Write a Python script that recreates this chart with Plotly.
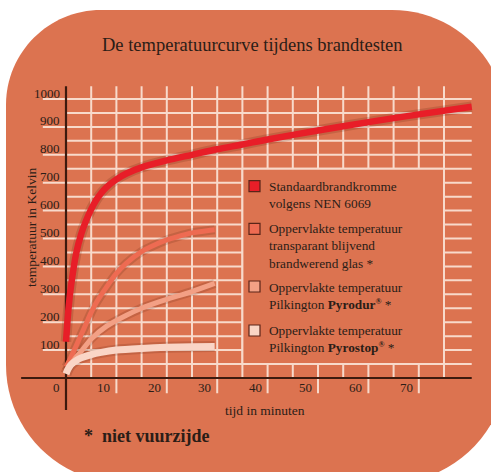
import plotly.graph_objects as go

# ---------------- data ----------------
x_ticks = [0, 10, 20, 30, 40, 50, 60, 70]
y_ticks = [100, 200, 300, 400, 500, 600, 700, 800, 900, 1000]

std_t = [0, 0.5, 1, 2, 3, 4, 5, 6, 7, 8, 10, 12, 15, 20, 25, 30, 35, 40, 50, 60, 70, 80.5]
std_v = [130, 250, 330, 445, 515, 565, 605, 638, 663, 683, 712, 733, 755, 780, 800, 820, 837, 855, 887, 917, 945, 972]

glass_t = [0, 1, 2, 3, 4, 5, 6, 8, 10, 12, 15, 18, 20, 22, 25, 28, 29.5]
glass_v = [40, 75, 115, 155, 195, 235, 270, 325, 375, 412, 453, 480, 495, 506, 520, 528, 531]

pyrodur_t = [0, 1, 2, 3, 5, 8, 12, 15, 18, 20, 25, 29.5]
pyrodur_v = [25, 50, 75, 95, 140, 185, 225, 250, 270, 282, 310, 339]

pyrostop_t = [0, 0.5, 1, 2, 3, 5, 7, 10, 15, 20, 25, 29.5]
pyrostop_v = [15, 35, 48, 62, 72, 84, 92, 100, 106, 110, 112, 113]

REG = "<sup><b><span style='font-size:8px'>®</span></b></sup>"
series_names = [
    "Standaardbrandkromme<br>volgens NEN 6069",
    "Oppervlakte temperatuur<br>transparant blijvend<br>brandwerend glas *",
    "Oppervlakte temperatuur<br>Pilkington <b>Pyrodur</b>" + REG + " *",
    "Oppervlakte temperatuur<br>Pilkington <b>Pyrostop</b>" + REG + " *",
]

# ---------------- style ----------------
W, H = 491, 472
BG = "#DC7350"
GRID = "#F8DACB"
AXIS = "#3C1A0E"
TXT = "#2B1D17"
FONT = "Liberation Serif"
colors = ["#E81E28", "#EE6B52", "#F3A085", "#FAD5C6"]
widths = [6.5, 5, 5, 7]

# pixel mapping (plot area = whole figure)
X0PX, XSCALE = 66.0, 5.04       # px of t=0, px per minute
Y0PX, YSCALE = 378.0, 0.279     # px of v=0, px per unit
xr = [(0 - X0PX) / XSCALE, (W - X0PX) / XSCALE]
yr = [(Y0PX - H) / YSCALE, Y0PX / YSCALE]


def px(x):
    return x / W


def py(y):
    return 1 - y / H


def P(x, y):
    return f"{px(x):.5f},{py(y):.5f}"


fig = go.Figure()

shapes = []
# rounded background
L, T, R, B = 6, 10, 507, 483
rtl, rtr, rbr, rbl = 95, 115, 118, 118
k = 0.5523
path = (
    f"M {P(L, T + rtl)} "
    f"C {P(L, T + rtl - k * rtl)} {P(L + rtl - k * rtl, T)} {P(L + rtl, T)} "
    f"L {P(R - rtr, T)} "
    f"C {P(R - rtr + k * rtr, T)} {P(R, T + rtr - k * rtr)} {P(R, T + rtr)} "
    f"L {P(R, B - rbr)} "
    f"C {P(R, B - rbr + k * rbr)} {P(R - rbr + k * rbr, B)} {P(R - rbr, B)} "
    f"L {P(L + rbl, B)} "
    f"C {P(L + rbl - k * rbl, B)} {P(L, B - rbl + k * rbl)} {P(L, B - rbl)} Z"
)
shapes.append(dict(type="path", xref="paper", yref="paper", path=path,
                   fillcolor=BG, line=dict(width=0), layer="below"))

# grid lines
t_right = 80.5
v_top = 1046
for v in range(50, 1001, 50):
    x_start = -4.6 if v % 100 == 0 else 0
    shapes.append(dict(type="line", xref="x", yref="y", x0=x_start, x1=t_right, y0=v, y1=v,
                       line=dict(color=GRID, width=2), layer="below"))
for t in range(5, 76, 5):
    y_bot = -55 if (t % 10 == 0 and t <= 70) else 0
    shapes.append(dict(type="line", xref="x", yref="y", x0=t, x1=t, y0=y_bot, y1=v_top,
                       line=dict(color=GRID, width=2), layer="below"))

# legend box (covers grid)
shapes.append(dict(type="rect", xref="x", yref="y", x0=35, x1=75, y0=50, y1=750,
                   fillcolor=BG, line=dict(color=GRID, width=2), layer="below"))

# axes
shapes.append(dict(type="line", xref="x", yref="y", x0=-8.9, x1=t_right, y0=0, y1=0,
                   line=dict(color=AXIS, width=2), layer="below"))
shapes.append(dict(type="line", xref="x", yref="y", x0=0, x1=0, y0=-115, y1=v_top,
                   line=dict(color=AXIS, width=2.2), layer="below"))

# legend squares
sq_y = [180.7, 223.3, 281, 325]
for c, y in zip(colors, sq_y):
    shapes.append(dict(type="rect", xref="paper", yref="paper",
                       x0=px(249), x1=px(260), y0=py(y), y1=py(y + 11),
                       fillcolor=c, line=dict(color="#5A2418", width=1.2)))

# series
series = [(std_t, std_v), (glass_t, glass_v), (pyrodur_t, pyrodur_v), (pyrostop_t, pyrostop_v)]
for (t, v), c, w in zip(series, colors, widths):
    fig.add_trace(go.Scatter(x=t, y=v, mode="lines",
                             line=dict(color="rgba(90,30,10,0.18)", width=w + 4, shape="spline", smoothing=0.8),
                             hoverinfo="skip", showlegend=False))
for (t, v), c, w, nm in zip(series, colors, widths, series_names):
    fig.add_trace(go.Scatter(x=t, y=v, mode="lines",
                             line=dict(color=c, width=w, shape="spline", smoothing=0.8),
                             name=nm.replace("<br>", " "), showlegend=False))

ann = []
# title
ann.append(dict(xref="paper", yref="paper", x=px(252), y=py(45), text="De temperatuurcurve tijdens brandtesten",
                showarrow=False, font=dict(family=FONT, size=18.5, color=TXT), xanchor="center", yanchor="middle"))
# y tick labels
for v in y_ticks:
    ann.append(dict(xref="x", yref="y", x=0, y=v, xshift=-4, yshift=6, text=str(v), showarrow=False,
                    xanchor="right", yanchor="middle", font=dict(family=FONT, size=13, color=TXT)))
# x tick labels
for t in x_ticks:
    ann.append(dict(xref="x", yref="y", x=t, y=0, xshift=-4, yshift=-9, text=str(t), showarrow=False,
                    xanchor="right", yanchor="middle", font=dict(family=FONT, size=13, color=TXT)))
# axis titles
ann.append(dict(xref="paper", yref="paper", x=px(32), y=py(227), text="temperatuur in Kelvin", textangle=-90,
                showarrow=False, font=dict(family=FONT, size=13.5, color=TXT), xanchor="center", yanchor="middle"))
ann.append(dict(xref="paper", yref="paper", x=px(265), y=py(410), text="tijd in minuten",
                showarrow=False, font=dict(family=FONT, size=13.5, color=TXT), xanchor="center", yanchor="middle"))
# footnote
ann.append(dict(xref="paper", yref="paper", x=px(82), y=py(436), text="<b>*  niet vuurzijde</b>",
                showarrow=False, font=dict(family=FONT, size=18, color=TXT), xanchor="left", yanchor="middle"))
# legend texts
leg_y = [194.7, 246.2, 295.9, 338.9]
for nm, y in zip(series_names, leg_y):
    ann.append(dict(xref="paper", yref="paper", x=px(267), y=py(y), text=nm, align="left",
                    showarrow=False, font=dict(family=FONT, size=13.3, color=TXT), xanchor="left", yanchor="middle"))

fig.update_layout(
    width=W, height=H,
    margin=dict(l=0, r=0, t=0, b=0),
    paper_bgcolor="white", plot_bgcolor="rgba(0,0,0,0)",
    xaxis=dict(range=xr, visible=False, fixedrange=True),
    yaxis=dict(range=yr, visible=False, fixedrange=True),
    shapes=shapes, annotations=ann, showlegend=False,
)

fig.write_html("out.html", config={"displayModeBar": False},
               post_script="document.body.style.margin='0';document.body.style.padding='0';")
